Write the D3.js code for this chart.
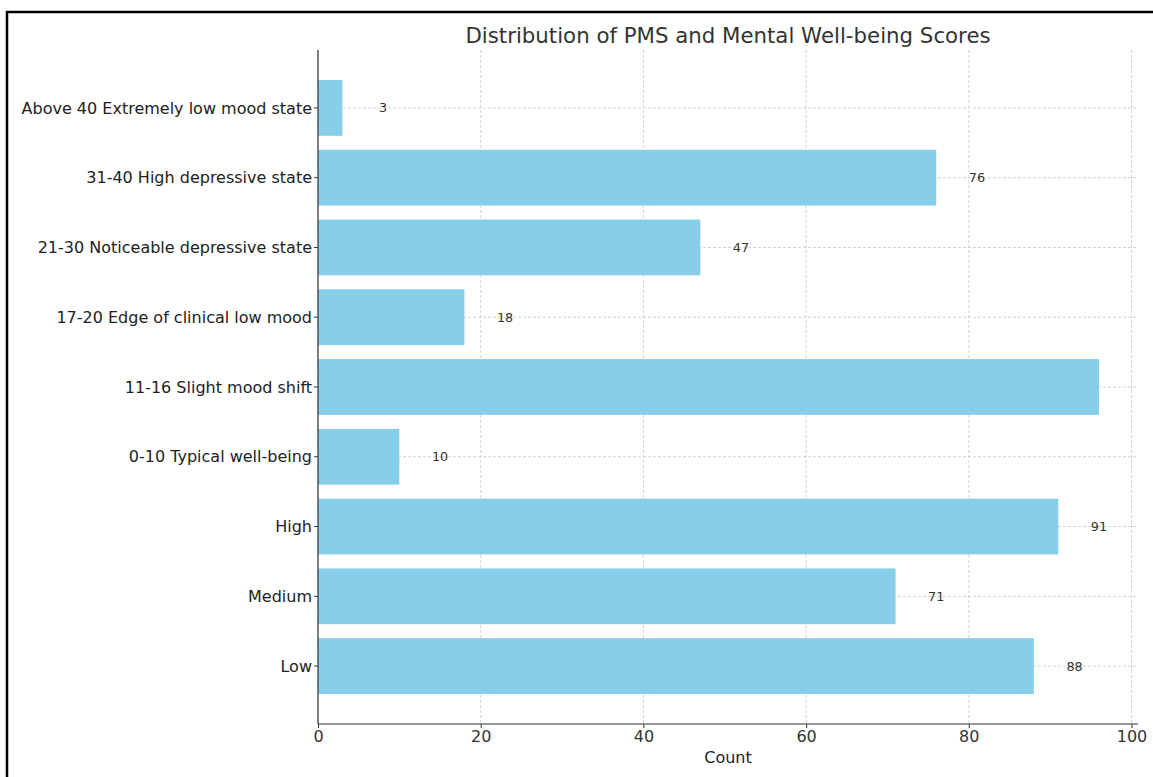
<!DOCTYPE html>
<html>
<head>
<meta charset="utf-8">
<script src="https://cdn.jsdelivr.net/npm/d3@7"></script>
<style>
  html, body { margin: 0; padding: 0; background: #fff; }
  svg { display: block; font-family: "DejaVu Sans", sans-serif; }
</style>
</head>
<body>
<svg id="chart" width="1153" height="777"></svg>
<script>
// Score groups, listed from the bottom of the chart to the top
const categories = [
  "Low",
  "Medium",
  "High",
  "0-10 Typical well-being",
  "11-16 Slight mood shift",
  "17-20 Edge of clinical low mood",
  "21-30 Noticeable depressive state",
  "31-40 High depressive state",
  "Above 40 Extremely low mood state"
];
const counts = [88, 71, 91, 10, 96, 18, 47, 76, 3];
const xTicks = [0, 20, 40, 60, 80, 100];

const title = "Distribution of PMS and Mental Well-being Scores";
const xLabel = "Count";

const svg = d3.select("#chart");

// outer frame
svg.append("path")
  .attr("d", "M7,777V12H1153")
  .attr("fill", "none")
  .attr("stroke", "#000")
  .attr("stroke-width", 2.5);

const plot = { left: 318, right: 1138, top: 50, bottom: 724 };

const x = d3.scaleLinear()
  .domain([0, d3.max(counts) * 1.05])
  .range([plot.left, plot.right]);

// category centres with 0.83 units of margin at each end, bars 0.8 units tall
const n = categories.length;
const yLin = d3.scaleLinear()
  .domain([-0.83, n - 1 + 0.83])
  .range([plot.bottom, plot.top]);
const unit = yLin(0) - yLin(1);
const barH = unit * 0.8;

// grid lines
const grid = svg.append("g").attr("stroke", "#c8c8c8").attr("stroke-width", 0.8)
  .attr("stroke-dasharray", "3,2");
grid.selectAll("line.vx").data(xTicks).join("line")
  .attr("x1", d => x(d)).attr("x2", d => x(d))
  .attr("y1", plot.top).attr("y2", plot.bottom);
grid.selectAll("line.hy").data(categories).join("line")
  .attr("x1", plot.left).attr("x2", plot.right)
  .attr("y1", (d, i) => yLin(i)).attr("y2", (d, i) => yLin(i));

// bars
svg.append("g").selectAll("rect").data(counts).join("rect")
  .attr("x", x(0))
  .attr("y", (d, i) => yLin(i) - barH / 2)
  .attr("width", d => x(d) - x(0))
  .attr("height", barH)
  .attr("fill", "#87CEEB");

// value labels sit 5 units past the bar end; those past the x limit are dropped
const [, xMax] = x.domain();
svg.append("g")
  .selectAll("text").data(counts.map((v, i) => ({ v, i })).filter(d => d.v + 5 <= xMax))
  .join("text")
  .attr("x", d => x(d.v + 5))
  .attr("y", d => yLin(d.i))
  .attr("dy", "0.35em")
  .attr("text-anchor", "middle")
  .attr("font-size", 12.8)
  .attr("fill", "#333")
  .text(d => d.v);

// x axis
const xAxis = svg.append("g")
  .attr("transform", `translate(0,${plot.bottom})`)
  .call(d3.axisBottom(x).tickValues(xTicks).tickSize(4).tickPadding(3).tickSizeOuter(0));
xAxis.select(".domain").attr("stroke", "#333").attr("stroke-width", 1.2)
  .attr("d", `M${plot.left},0H${plot.right}`);
xAxis.selectAll(".tick line").attr("stroke", "#333");
xAxis.selectAll(".tick text").attr("font-size", 16).attr("fill", "#333")
  .attr("font-family", "DejaVu Sans, sans-serif");

// y axis
const yAxisG = svg.append("g").attr("transform", `translate(${plot.left},0)`);
yAxisG.append("line")
  .attr("x1", 0).attr("x2", 0)
  .attr("y1", plot.top).attr("y2", plot.bottom)
  .attr("stroke", "#333").attr("stroke-width", 1.2);
const yTick = yAxisG.selectAll("g.tick").data(categories).join("g")
  .attr("transform", (d, i) => `translate(0,${yLin(i)})`);
yTick.append("line").attr("x1", -4).attr("x2", 0).attr("stroke", "#333");
yTick.append("text")
  .attr("x", -6)
  .attr("dy", "0.35em")
  .attr("text-anchor", "end")
  .attr("font-size", 16)
  .attr("fill", "#222")
  .text(d => d);

// title and axis label
svg.append("text")
  .attr("x", (plot.left + plot.right) / 2)
  .attr("y", 43)
  .attr("text-anchor", "middle")
  .attr("font-size", 21.3)
  .attr("fill", "#333")
  .text(title);

svg.append("text")
  .attr("x", (plot.left + plot.right) / 2)
  .attr("y", 763)
  .attr("text-anchor", "middle")
  .attr("font-size", 16)
  .attr("fill", "#222")
  .text(xLabel);
</script>
</body>
</html>
